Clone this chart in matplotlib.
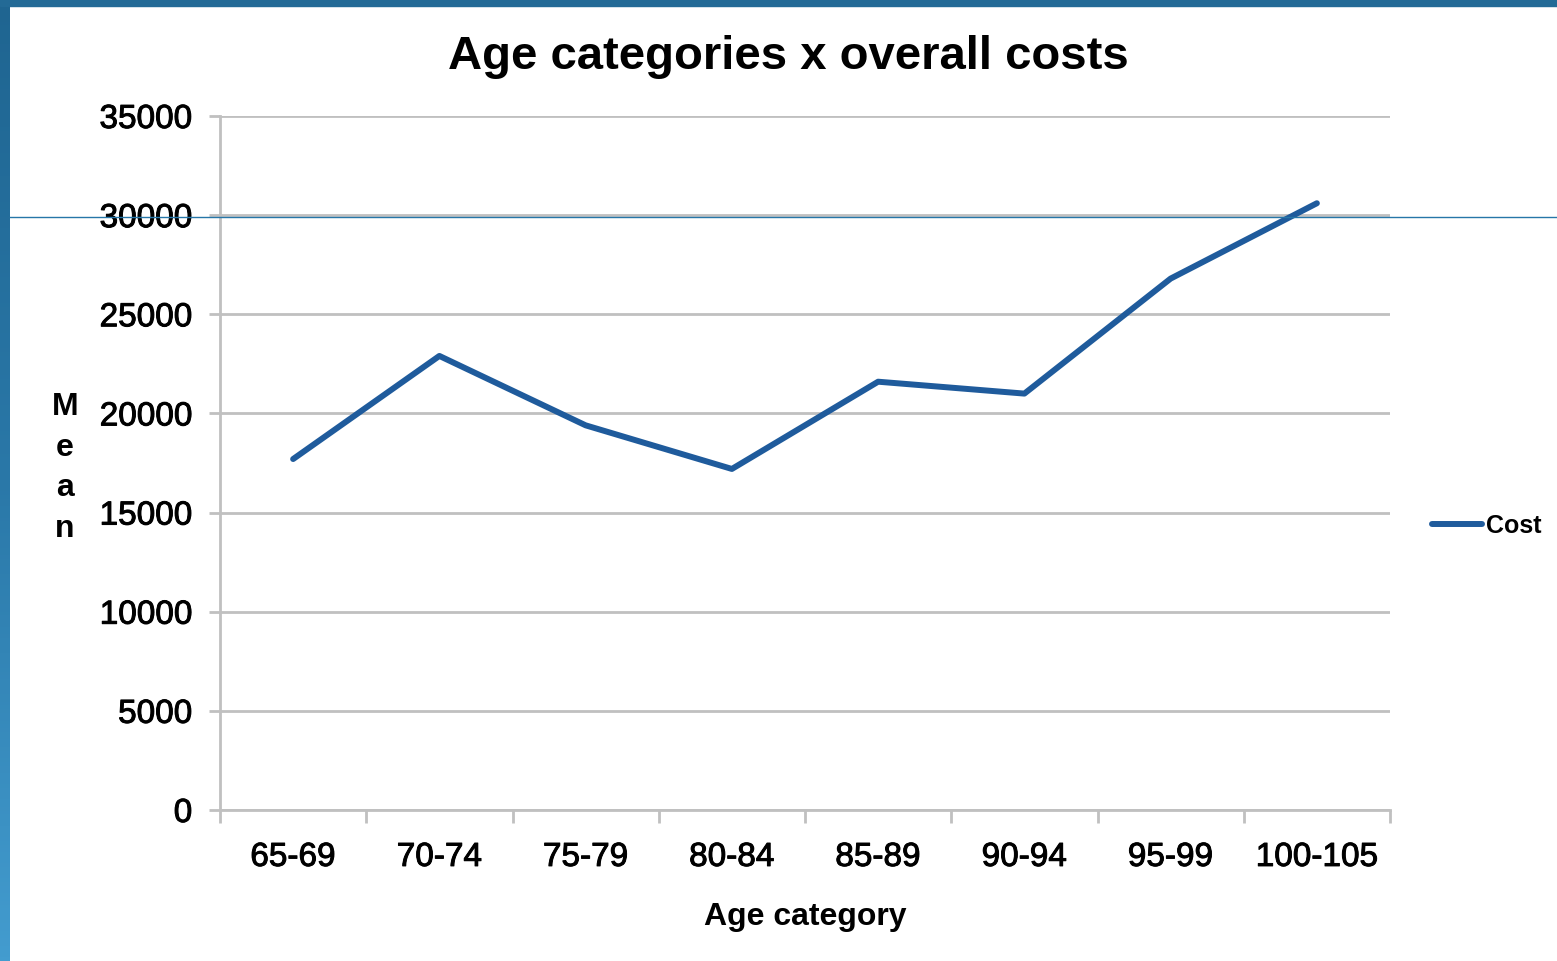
import numpy as np
import matplotlib.pyplot as plt
import matplotlib.patheffects as pe
from matplotlib.patches import Rectangle
from matplotlib.colors import LinearSegmentedColormap
from matplotlib.lines import Line2D

plt.rcParams['font.family'] = ['Liberation Sans', 'DejaVu Sans']

# mean overall cost per age band
age_groups = ['65-69', '70-74', '75-79', '80-84', '85-89', '90-94', '95-99', '100-105']
mean_cost = [17700, 22900, 19400, 17200, 21600, 21000, 26800, 30600]

W, H = 1557, 962
fig = plt.figure(figsize=(W / 100, H / 100), dpi=100)
fig.patch.set_facecolor('white')
heavy = [pe.withStroke(linewidth=0.7, foreground='black')]

# slide frame: gradient strip on the left, dark band on top
strip = fig.add_axes([0, 0, 10 / W, 1])
grad = np.linspace(0, 1, 256).reshape(-1, 1)
cmap = LinearSegmentedColormap.from_list('frame', ['#439ccf', '#2a78a8', '#1f6591'])
strip.imshow(grad, aspect='auto', cmap=cmap, origin='lower')
strip.axis('off')
fig.patches.append(Rectangle((0, 1 - 7 / H), 1, 7 / H, transform=fig.transFigure,
                             color='#236a96', zorder=5))

x0, x1, y0, y1 = 220, 1390, 117, 811
ax = fig.add_axes([x0 / W, 1 - y1 / H, (x1 - x0) / W, (y1 - y0) / H])
xs = np.arange(len(age_groups))
ax.plot(xs, mean_cost, color='#1f5b9c', lw=4.3, solid_capstyle='round',
        solid_joinstyle='round', zorder=3)

ax.set_xlim(-0.5, len(age_groups) - 0.5)
ax.set_ylim(0, 35000)
ax.set_yticks(np.arange(0, 35001, 5000))
ax.set_xticks(xs)
ax.set_xticklabels(age_groups)
ax.set_xticks(np.arange(-0.5, len(age_groups)), minor=True)
ax.yaxis.grid(True, color='#c0c0c0', lw=2)
ax.set_axisbelow(True)
for s in ['top', 'right']:
    ax.spines[s].set_visible(False)
for s in ['left', 'bottom']:
    ax.spines[s].set_color('#c0c0c0')
    ax.spines[s].set_linewidth(2)
ax.tick_params(axis='x', which='major', length=0, pad=23, labelsize=24)
ax.tick_params(axis='x', which='minor', length=9, width=2, color='#c0c0c0')
ax.tick_params(axis='y', length=8, width=2, color='#c0c0c0', pad=12, labelsize=24)
for lbl in ax.get_xticklabels() + ax.get_yticklabels():
    lbl.set_path_effects(heavy)

ax.set_xlabel('Age category', fontsize=23, fontweight='bold', labelpad=20)
fig.text(65 / W, 1 - 468 / H, 'M\ne\na\nn', fontsize=23, fontweight='bold',
         ha='center', va='center', linespacing=1.45)
fig.text(788 / W, 1 - 57 / H, 'Age categories x overall costs', fontsize=34,
         fontweight='bold', ha='center', va='center')

# legend entry on the right
fig.add_artist(Line2D([1432 / W, 1482 / W], [1 - 525 / H, 1 - 525 / H],
                      color='#1f5b9c', lw=4.3, solid_capstyle='round'))
fig.text(1486 / W, 1 - 526 / H, 'Cost', fontsize=18, fontweight='bold',
         ha='left', va='center')

# thin rule across the slide
fig.add_artist(Line2D([10 / W, 1], [1 - 218 / H, 1 - 218 / H],
                      color='#2676a8', lw=1.0, zorder=10))

fig.savefig('out.png', dpi=100, facecolor='white')
